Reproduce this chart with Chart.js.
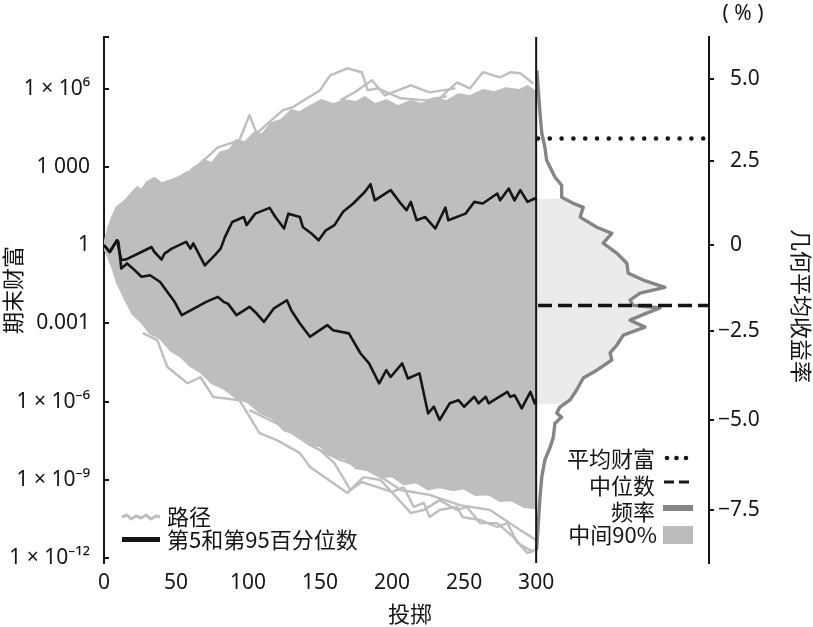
<!DOCTYPE html>
<html>
<head>
<meta charset="utf-8">
<script src="https://cdn.jsdelivr.net/npm/chart.js@4.4.1/dist/chart.umd.min.js"></script>
<style>
  html, body { margin: 0; padding: 0; background: #fff; }
  #wrap { width: 813px; height: 627px; }
</style>
</head>
<body>
<div id="wrap"><canvas id="chart" width="813" height="627"></canvas></div>
<script>
// values
// left panel: x = toss, y = log10(final wealth)
const TOSSES = 300;
const Y_MIN_LOG = -12.18, Y_MAX_LOG = 7.98;
const X_MAX = 420;                 // right panel sits past toss 300
const FREQ_MIN = -14.98, FREQ_MAX = 6;

const xTicks = [0, 50, 100, 150, 200, 250, 300];
const wealthTickLogs = [-12, -9, -6, -3, 0, 3, 6];
const wealthTickLabels = ['1 × 10⁻¹²', '1 × 10⁻⁹', '1 × 10⁻⁶', '0.001', '1', '1 000', '1 × 10⁶'];
const returnTicks = [-7.5, -5, -2.5, 0, 2.5, 5];
const returnTickLabels = ['−7.5', '−5.0', '−2.5', '\u20070', '\u20072.5', '\u20075.0'];

// grey cloud of paths (edges of the dense band)
const cloudTopSteps = [0, 3, 6, 9, 15, 23, 26, 30, 35, 40, 47, 53, 58, 63, 69, 75, 81, 87, 92, 98, 104, 110, 116, 123, 130, 136, 143, 151, 159, 167, 175, 181, 188, 196, 204, 213, 221, 229, 238, 246, 254, 263, 271, 279, 288, 294, 300];
const cloudTopLog = [0, 0.65, 1.11, 1.46, 1.72, 2.22, 2.11, 2.41, 2.57, 2.37, 2.49, 2.64, 2.80, 2.87, 3.26, 3.14, 3.56, 3.64, 4.02, 3.94, 4.29, 4.25, 4.67, 4.79, 5.17, 5.09, 5.32, 5.55, 5.40, 5.55, 5.48, 5.67, 5.40, 5.55, 5.32, 5.52, 5.40, 5.63, 5.52, 5.78, 5.71, 5.94, 5.86, 6.01, 5.94, 6.09, 5.86];
const cloudBottomSteps = [0, 3, 6, 9, 15, 20, 26, 32, 39, 46, 53, 60, 67, 75, 83, 92, 100, 108, 117, 125, 133, 142, 150, 158, 167, 175, 183, 192, 200, 208, 217, 225, 233, 242, 250, 258, 267, 275, 283, 292, 300];
const cloudBottomLog = [-0.08, -0.46, -0.88, -1.42, -2.11, -2.64, -2.95, -3.37, -3.56, -4.02, -4.25, -4.63, -4.86, -5.29, -5.48, -5.86, -6.01, -6.40, -6.63, -7.09, -7.24, -7.62, -7.70, -8.04, -8.16, -8.54, -8.62, -8.89, -8.85, -9.15, -9.08, -9.35, -9.27, -9.38, -9.31, -9.57, -9.54, -9.80, -9.77, -10.03, -10.07];

// stray paths outside the dense band
const threadASteps = [60, 67, 79, 94, 101, 106, 124, 131, 150, 157, 169, 179, 183, 190, 206, 224, 238];
const threadALog = [2.87, 3.14, 3.75, 4.02, 4.98, 4.29, 5.17, 5.29, 5.94, 6.51, 6.78, 6.63, 5.94, 6.01, 5.63, 5.55, 5.71];
const threadBSteps = [219, 233, 245, 254, 263, 275, 282, 289, 298];
const threadBLog = [5.40, 5.63, 6.24, 6.01, 6.63, 6.43, 6.63, 6.59, 6.20];
const threadCSteps = [164, 174, 186, 195, 213, 226, 244];
const threadCLog = [5.55, 5.86, 6.32, 5.74, 6.13, 5.86, 6.01];
const threadDSteps = [27, 37, 44, 58, 67, 76, 94, 108, 120, 136, 143, 169, 180, 192, 213, 222, 233, 245, 252, 261, 273, 284, 294, 299];
const threadDLog = [-3.37, -3.64, -4.67, -5.29, -5.06, -5.82, -5.94, -7.20, -7.47, -7.97, -8.50, -9.50, -8.89, -9.00, -10.26, -10.15, -9.77, -10.15, -10.03, -10.65, -10.65, -11.18, -11.80, -11.68];
const threadESteps = [101, 122, 143, 164, 185, 206, 226, 247, 268, 289, 300];
const threadELog = [-6.32, -6.89, -7.66, -8.23, -8.62, -9.38, -9.57, -9.96, -10.15, -10.92, -11.30];
const threadFSteps = [208, 215, 222, 226, 233, 245, 249, 261, 273, 280, 287, 298];
const threadFLog = [-9.27, -10.03, -9.88, -10.42, -10.15, -10.03, -10.42, -10.53, -10.80, -10.65, -11.41, -11.76];
const threadGSteps = [150, 160, 171, 179, 192, 200, 208];
const threadGLog = [-7.85, -8.35, -9.38, -9.08, -9.31, -9.46, -9.27];

// 95th and 5th percentile paths
const p95Steps = [0, 4, 9, 12, 15, 26, 33, 35, 40, 42, 47, 57, 60, 62, 70, 77, 81, 84, 89, 97, 99, 105, 115, 119, 125, 128, 136, 138, 144, 149, 154, 160, 166, 173, 181, 185, 188, 199, 206, 210, 213, 217, 223, 230, 237, 239, 251, 257, 263, 273, 275, 281, 285, 289, 294, 299, 300];
const p95Log = [0, -0.26, 0.19, -0.57, -0.55, -0.26, -0.07, -0.26, -0.55, -0.32, -0.13, 0.13, -0.13, 0.07, -0.77, -0.38, -0.13, 0.32, 0.89, 1.08, 0.77, 1.21, 1.43, 1.08, 0.64, 1.21, 1.08, 0.70, 0.45, 0.19, 0.57, 0.77, 1.28, 1.60, 2.04, 2.34, 1.72, 2.11, 1.60, 1.34, 1.66, 0.96, 1.08, 0.64, 1.44, 0.96, 1.21, 1.66, 1.60, 1.98, 1.72, 2.17, 1.72, 2.11, 1.66, 1.79, 1.76];
const p5Steps = [0, 4, 9, 10, 12, 16, 20, 26, 32, 39, 44, 49, 54, 71, 79, 83, 86, 92, 101, 106, 111, 118, 127, 130, 136, 143, 148, 155, 159, 170, 178, 184, 191, 196, 199, 207, 211, 219, 225, 229, 233, 240, 246, 250, 257, 260, 265, 267, 280, 282, 285, 290, 296, 299, 300];
const p5Log = [0, -0.26, 0.19, 0.13, -0.89, -0.70, -0.89, -1.21, -1.15, -1.41, -1.79, -2.17, -2.68, -2.17, -1.98, -2.17, -2.24, -2.68, -2.36, -2.62, -2.94, -2.42, -2.11, -2.49, -3.00, -3.51, -3.32, -3.06, -3.26, -3.38, -4.14, -4.53, -5.30, -4.79, -5.05, -4.53, -5.11, -4.91, -6.45, -6.19, -6.70, -6.06, -5.94, -6.19, -5.81, -6.06, -5.81, -6.06, -5.62, -5.81, -5.75, -6.25, -5.62, -6.06, -5.90];

// right panel: geometric mean return (%) and its frequency
const freqReturn = [5.28, 4.66, 3.96, 3.35, 2.92, 2.53, 2.23, 2.02, 1.78, 1.42, 1.24, 1.12, 0.83, 0.53, 0.35, 0.06, -0.23, -0.53, -0.82, -1.02, -1.23, -1.40, -1.60, -1.75, -1.83, -1.98, -2.18, -2.38, -2.61, -2.90, -3.12, -3.32, -3.61, -3.83, -4.17, -4.45, -4.65, -4.82, -4.93, -5.10, -5.49, -5.77, -6.12, -6.59, -7.14, -7.85, -8.58];
const freqValue = [0.03, 0.08, 0.14, 0.20, 0.31, 0.37, 0.54, 0.66, 0.89, 0.89, 1.29, 1.64, 1.53, 2.11, 2.63, 2.33, 2.80, 3.15, 3.20, 3.72, 4.47, 3.61, 3.26, 3.36, 4.30, 3.84, 3.26, 3.78, 3.03, 2.80, 2.57, 2.63, 2.11, 1.64, 1.41, 1.18, 0.83, 0.72, 0.89, 0.66, 0.60, 0.49, 0.31, 0.20, 0.14, 0.08, 0.02];
const middleReturn = [1.38, 1.24, 1.12, 0.83, 0.53, 0.35, 0.06, -0.23, -0.53, -0.82, -1.02, -1.23, -1.40, -1.60, -1.75, -1.83, -1.98, -2.18, -2.38, -2.61, -2.90, -3.12, -3.32, -3.61, -3.83, -4.17, -4.45, -4.57];
const middleValue = [0.93, 1.29, 1.64, 1.53, 2.11, 2.63, 2.33, 2.80, 3.15, 3.20, 3.72, 4.47, 3.61, 3.26, 3.36, 4.30, 3.84, 3.26, 3.78, 3.03, 2.80, 2.57, 2.63, 2.11, 1.64, 1.41, 1.18, 0.93];
const meanWealthReturn = 3.19;
const medianReturn = -1.76;

const pathGray = '#bebebe';
const ink = '#151515';
const tickFont = { family: "'Noto Sans', 'DejaVu Sans', sans-serif", size: 21 };
const cjk = "'Noto Sans CJK SC', 'Noto Sans', sans-serif";

const toPoints = (steps, logs) => steps.map((s, i) => ({ x: s, y: Math.pow(10, logs[i]) }));
const retToWealth = r => Math.pow(1 + r / 100, TOSSES);
const toSideways = (rets, vals) => rets.map((r, i) => ({ x: vals[i], y: retToWealth(r) }));

function pathLine(data, color, width, order, extra) {
    return Object.assign({
        data: data,
        borderColor: color,
        borderWidth: width,
        pointRadius: 0,
        tension: 0,
        fill: false,
        borderJoinStyle: 'round',
        order: order
    }, extra || {});
}

const threads = [
    [threadASteps, threadALog], [threadBSteps, threadBLog], [threadCSteps, threadCLog],
    [threadDSteps, threadDLog], [threadESteps, threadELog], [threadFSteps, threadFLog],
    [threadGSteps, threadGLog]
].map(t => pathLine(toPoints(t[0], t[1]), pathGray, 2.4, 9));

const datasets = [
    pathLine(toPoints(cloudTopSteps, cloudTopLog), pathGray, 2.4, 10, { fill: '+1', backgroundColor: pathGray }),
    pathLine(toPoints(cloudBottomSteps, cloudBottomLog), pathGray, 2.4, 10),
    ...threads,
    pathLine(toPoints(p95Steps, p95Log), ink, 2.6, 2),
    pathLine(toPoints(p5Steps, p5Log), ink, 2.6, 2),
    // divider at toss 300
    pathLine([{ x: TOSSES, y: Math.pow(10, Y_MIN_LOG) }, { x: TOSSES, y: Math.pow(10, Y_MAX_LOG) }], ink, 2, 1),
    // middle 90% shading
    pathLine(toSideways(middleReturn, middleValue), 'rgba(0,0,0,0)', 0, 8, {
        xAxisID: 'xf', yAxisID: 'yr', indexAxis: 'y', fill: 'origin', backgroundColor: '#ebebeb'
    }),
    // frequency curve
    pathLine(toSideways(freqReturn, freqValue), '#858585', 3.4, 3, {
        xAxisID: 'xf', yAxisID: 'yr', indexAxis: 'y'
    }),
    // mean wealth (dotted) and median (dashed)
    pathLine([{ x: 0.07, y: retToWealth(meanWealthReturn) }, { x: FREQ_MAX, y: retToWealth(meanWealthReturn) }], ink, 4.6, 1, {
        xAxisID: 'xf', yAxisID: 'yr', borderDash: [0, 11.8], borderCapStyle: 'round'
    }),
    pathLine([{ x: 0.07, y: retToWealth(medianReturn) }, { x: FREQ_MAX, y: retToWealth(medianReturn) }], ink, 3.4, 1, {
        xAxisID: 'xf', yAxisID: 'yr', borderDash: [14, 6], borderCapStyle: 'butt'
    })
];

const textPlugin = {
    id: 'texts',
    afterDraw(chart) {
        const ctx = chart.ctx;
        ctx.save();
        ctx.fillStyle = ink;
        ctx.textBaseline = 'middle';

        // axis titles
        ctx.font = '22px ' + cjk;
        ctx.textAlign = 'center';
        ctx.fillText('投掷', 410, 614);
        ctx.save();
        ctx.translate(13, 290);
        ctx.rotate(-Math.PI / 2);
        ctx.fillText('期末财富', 0, 0);
        ctx.restore();
        ctx.save();
        ctx.translate(801, 306);
        ctx.rotate(Math.PI / 2);
        ctx.fillText('几何平均收益率', 0, 0);
        ctx.restore();
        ctx.font = "21px 'Noto Sans', sans-serif";
        ctx.fillText('( % )', 743, 14);

        // left legend
        ctx.strokeStyle = pathGray;
        ctx.lineWidth = 3;
        ctx.lineJoin = 'round';
        ctx.beginPath();
        const zig = [[122, 517], [127, 515], [131, 519], [136, 516], [141, 518], [146, 515], [151, 519], [156, 516], [160, 517]];
        zig.forEach((p, i) => i ? ctx.lineTo(p[0], p[1]) : ctx.moveTo(p[0], p[1]));
        ctx.stroke();
        ctx.strokeStyle = ink;
        ctx.lineWidth = 5;
        ctx.beginPath();
        ctx.moveTo(122, 539.5);
        ctx.lineTo(160, 539.5);
        ctx.stroke();
        ctx.font = '22px ' + cjk;
        ctx.textAlign = 'left';
        ctx.fillText('路径', 167, 517);
        ctx.fillText('第5和第95百分位数', 167, 540);

        // right legend
        ctx.textAlign = 'right';
        ctx.fillText('平均财富', 655, 459);
        ctx.fillText('中位数', 655, 486);
        ctx.fillText('频率', 655, 512);
        ctx.fillText('中间90%', 657, 535);
        [667, 676.5, 686].forEach(x => {
            ctx.beginPath();
            ctx.arc(x, 458, 2.3, 0, Math.PI * 2);
            ctx.fill();
        });
        ctx.lineWidth = 3;
        ctx.beginPath();
        ctx.moveTo(664, 482); ctx.lineTo(674, 482);
        ctx.moveTo(679, 482); ctx.lineTo(689, 482);
        ctx.stroke();
        ctx.strokeStyle = '#858585';
        ctx.lineWidth = 6;
        ctx.beginPath();
        ctx.moveTo(663, 508); ctx.lineTo(693, 508);
        ctx.stroke();
        ctx.fillStyle = '#bcbcbc';
        ctx.fillRect(663, 526, 30, 18);
        ctx.restore();
    }
};

const wealthTicksFor = scale => {
    scale.ticks = wealthTickLogs.map(v => ({ value: Math.pow(10, v) }))
        .concat([{ value: Math.pow(10, Y_MAX_LOG) }]);
};

new Chart(document.getElementById('chart'), {
    type: 'line',
    data: { datasets: datasets },
    plugins: [textPlugin],
    options: {
        responsive: false,
        animation: false,
        devicePixelRatio: 1,
        layout: { padding: { top: 37, left: 0, right: 0, bottom: 0 } },
        plugins: { legend: { display: false }, tooltip: { enabled: false } },
        scales: {
            x: {
                type: 'linear', position: 'bottom', min: 0, max: X_MAX,
                afterBuildTicks: s => { s.ticks = xTicks.map(v => ({ value: v })); },
                afterFit: s => { s.height = 64; },
                ticks: { font: tickFont, color: ink, padding: 7, autoSkip: false, maxRotation: 0, callback: v => String(v) },
                grid: { display: false, drawTicks: false },
                border: { display: false }
            },
            xf: {
                type: 'linear', position: 'bottom', display: false, min: FREQ_MIN, max: FREQ_MAX
            },
            y: {
                type: 'logarithmic', position: 'left',
                min: Math.pow(10, Y_MIN_LOG), max: Math.pow(10, Y_MAX_LOG),
                afterBuildTicks: wealthTicksFor,
                afterFit: s => { s.width = 104; },
                ticks: { font: tickFont, color: ink, padding: 19, autoSkip: false, callback: (v, i) => wealthTickLabels[i] || '' },
                grid: { drawOnChartArea: false, color: ink, lineWidth: 2, tickLength: -5 },
                border: { color: ink, width: 2 }
            },
            yr: {
                type: 'logarithmic', position: 'right',
                min: Math.pow(10, Y_MIN_LOG), max: Math.pow(10, Y_MAX_LOG),
                afterBuildTicks: s => { s.ticks = returnTicks.map(r => ({ value: retToWealth(r) })); },
                afterFit: s => { s.width = 104; },
                ticks: { font: tickFont, color: ink, padding: 4, autoSkip: false, callback: (v, i) => returnTickLabels[i] },
                grid: { drawOnChartArea: false, color: ink, lineWidth: 2, tickLength: 5 },
                border: { color: ink, width: 2 }
            }
        }
    }
});
</script>
</body>
</html>
